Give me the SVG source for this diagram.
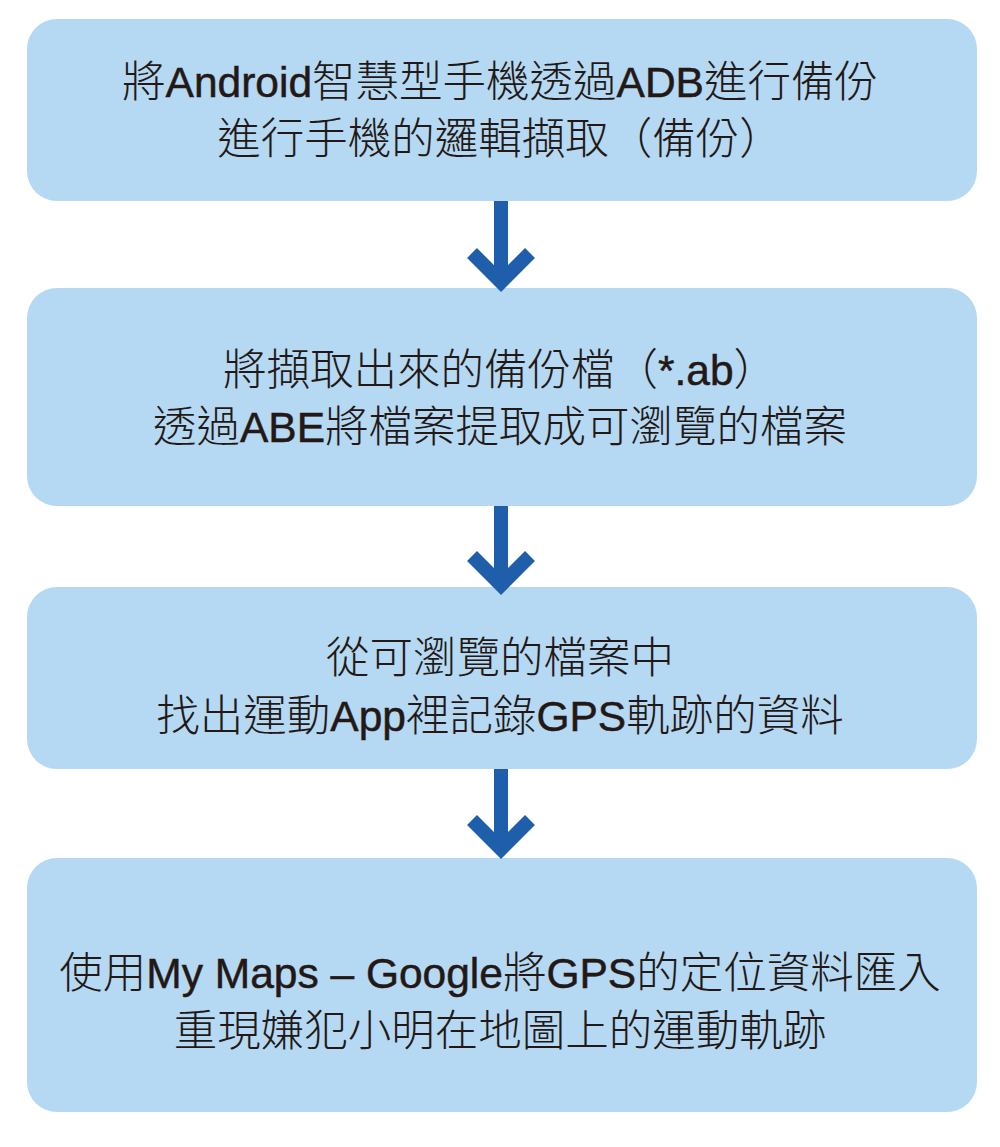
<svg xmlns="http://www.w3.org/2000/svg" width="1000" height="1147" viewBox="0 0 1000 1147">
<defs>
<style>
.box{fill:#b5d8f3;}
.t{font-family:"Noto Sans CJK TC","Noto Sans CJK SC",sans-serif;font-weight:300;font-size:43.5px;fill:#231815;text-anchor:middle;}
.l{font-family:"Liberation Sans",Arial,sans-serif;font-weight:normal;font-size:42.5px;stroke:#231815;stroke-width:0.5px;}
.shaft{stroke:#1e5eab;stroke-width:14;fill:none;}
.head{stroke:#1e5eab;stroke-width:14;fill:none;stroke-linejoin:miter;stroke-miterlimit:4;}
</style>
</defs>
<rect width="1000" height="1147" fill="#ffffff"/>
<g id="node1">
<rect class="box" x="27" y="19" width="950" height="182" rx="30" ry="30"/>
<text class="t" x="500" y="97">將<tspan class="l">Android</tspan>智慧型手機透過<tspan class="l">ADB</tspan>進行備份</text>
<text class="t" x="500" y="154">進行手機的邏輯擷取（備份）</text>
</g>
<g id="node2">
<rect class="box" x="27" y="288" width="950" height="218" rx="30" ry="30"/>
<text class="t" x="500" y="385">將擷取出來的備份檔（<tspan class="l">*.ab</tspan>）</text>
<text class="t" x="500" y="442">透過<tspan class="l">ABE</tspan>將檔案提取成可瀏覽的檔案</text>
</g>
<g id="node3">
<rect class="box" x="27" y="587" width="950" height="182" rx="30" ry="30"/>
<text class="t" x="500" y="673">從可瀏覽的檔案中</text>
<text class="t" x="500" y="731">找出運動<tspan class="l">App</tspan>裡記錄<tspan class="l">GPS</tspan>軌跡的資料</text>
</g>
<g id="node4">
<rect class="box" x="27" y="858" width="950" height="254" rx="30" ry="30"/>
<text class="t" x="500" y="988">使用<tspan class="l">My Maps – Google</tspan>將<tspan class="l">GPS</tspan>的定位資料匯入</text>
<text class="t" x="500" y="1046">重現嫌犯小明在地圖上的運動軌跡</text>
</g>
<g id="connectors">
<line class="shaft" x1="501" y1="201" x2="501" y2="280"/>
<path class="head" d="M472,253 L501,282 L530,253"/>
<line class="shaft" x1="501" y1="506" x2="501" y2="585"/>
<path class="head" d="M472,556 L501,585 L530,556"/>
<line class="shaft" x1="501" y1="769" x2="501" y2="848"/>
<path class="head" d="M472,820 L501,849 L530,820"/>
</g>
</svg>
